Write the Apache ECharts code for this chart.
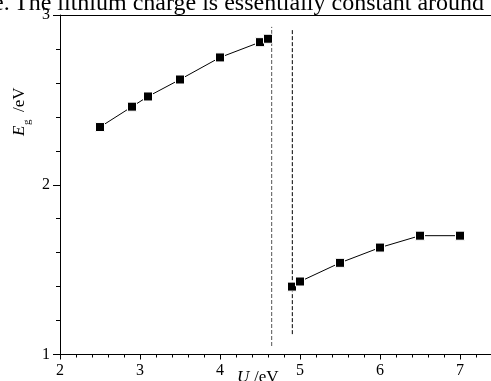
<!DOCTYPE html>
<html><head><meta charset="utf-8">
<script src="https://cdn.jsdelivr.net/npm/echarts@6/dist/echarts.min.js"></script>
<style>html,body{margin:0;padding:0;background:#fff;overflow:hidden}#c{width:491px;height:381px}</style>
</head><body><div id="c"></div>
<script>
// data
const uLow = [2.5, 2.9, 3.1, 3.5, 4.0, 4.5, 4.6];
const egLow = [2.34, 2.46, 2.52, 2.62, 2.75, 2.84, 2.86];
const uHigh = [4.9, 5.0, 5.5, 6.0, 6.5, 7.0];
const egHigh = [1.40, 1.43, 1.54, 1.63, 1.70, 1.70];
const dash1U = [4.646, 4.646];
const dash1Eg = [1.05, 2.93];
const dash2U = [4.904, 4.904];
const dash2Eg = [1.12, 2.92];
const xTickLabels = ['2', '3', '4', '5', '6', '7'];
const yTickLabels = ['1', '2', '3'];
const bodyTextLead = 'e.';
const bodyText = 'The lithium charge is essentially constant around';

const zip = (a, b) => a.map((v, i) => [v, b[i]]);
const serif = 'Liberation Serif';

const chart = echarts.init(document.getElementById('c'), null, {renderer: 'canvas'});
chart.setOption({
  animation: false,
  backgroundColor: '#fff',
  grid: {left: 60, top: 15, right: -1, bottom: 26.5, containLabel: false, outerBoundsMode: 'none'},
  xAxis: [{
    type: 'value', min: 2, max: 7.4, interval: 1,
    axisLine: {show: true, onZero: false, lineStyle: {color: '#000', width: 1}},
    axisTick: {show: true, inside: false, length: 5, lineStyle: {color: '#000'}},
    minorTick: {show: true, splitNumber: 5, length: 3, lineStyle: {color: '#000'}},
    splitLine: {show: false},
    axisLabel: {
      color: '#000', fontFamily: serif, fontSize: 16, margin: 8,
      formatter: v => xTickLabels.indexOf(String(v)) >= 0 ? String(v) : ''
    }
  }, {
    type: 'value', min: 2, max: 7.4, position: 'top',
    axisLine: {show: true, onZero: false, lineStyle: {color: '#000', width: 1}},
    axisTick: {show: false}, axisLabel: {show: false}, splitLine: {show: false}
  }],
  yAxis: {
    type: 'value', min: 1, max: 3, interval: 1,
    axisLine: {show: true, onZero: false, lineStyle: {color: '#000', width: 1}},
    axisTick: {show: true, inside: false, length: 7, lineStyle: {color: '#000'}},
    minorTick: {show: true, splitNumber: 5, length: 4, lineStyle: {color: '#000'}},
    splitLine: {show: false},
    axisLabel: {
      color: '#000', fontFamily: serif, fontSize: 16, margin: 10,
      formatter: v => yTickLabels.indexOf(String(v)) >= 0 ? String(v) : ''
    }
  },
  graphic: [
    {type: 'text', left: -7, top: -8, style: {text: bodyTextLead, font: '24px "Liberation Serif"', fill: '#000'}},
    {type: 'text', left: 14, top: -8, style: {text: bodyText, font: '24px "Liberation Serif"', fill: '#000'}},
    {
      type: 'group', x: 28, y: 136, rotation: Math.PI / 2,
      children: [
        {type: 'text', x: 0, y: 0, style: {text: 'E', font: 'italic 17px "Liberation Serif"', fill: '#000', verticalAlign: 'bottom'}},
        {type: 'text', x: 11, y: 5, style: {text: 'g', font: '11px "Liberation Serif"', fill: '#000', verticalAlign: 'bottom'}},
        {type: 'text', x: 24, y: 0, style: {text: '/eV', font: '17px "Liberation Serif"', fill: '#000', verticalAlign: 'bottom'}}
      ]
    },
    {type: 'text', x: 237, y: 369, style: {text: 'U', font: 'italic 17px "Liberation Serif"', fill: '#000'}},
    {type: 'text', x: 254, y: 369, style: {text: '/eV', font: '17px "Liberation Serif"', fill: '#000'}}
  ],
  series: [
    {
      type: 'line', data: zip(uLow, egLow), symbol: 'rect', symbolSize: 9,
      lineStyle: {color: '#000', width: 1}, itemStyle: {color: '#000', borderColor: '#fff', borderWidth: 1}
    },
    {
      type: 'line', data: zip(uHigh, egHigh), symbol: 'rect', symbolSize: 9,
      lineStyle: {color: '#000', width: 1}, itemStyle: {color: '#000', borderColor: '#fff', borderWidth: 1}
    },
    {
      type: 'line', data: zip(dash1U, dash1Eg), symbol: 'none', silent: true,
      lineStyle: {color: '#555', width: 1, type: [4, 2]}
    },
    {
      type: 'line', data: zip(dash2U, dash2Eg), symbol: 'none', silent: true,
      lineStyle: {color: '#000', width: 1, type: [4, 2]}
    }
  ]
});
</script>
</body></html>
